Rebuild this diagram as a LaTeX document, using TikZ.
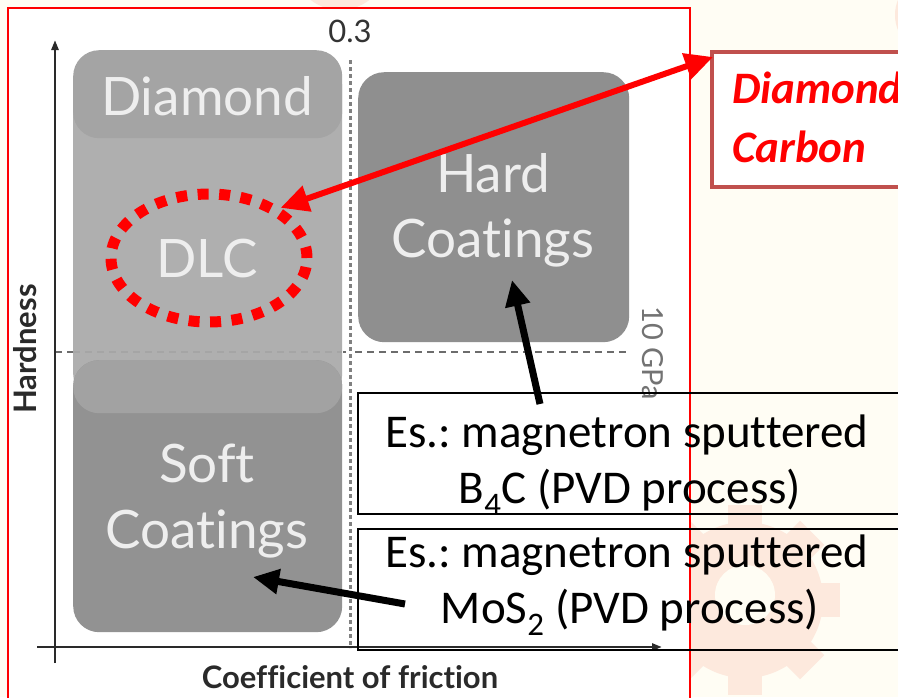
\documentclass[tikz,border=0pt]{standalone}
\usepackage{fontspec}
\setmainfont[Ligatures=CommonOff]{Carlito}
\newfontfamily\gill[Ligatures=CommonOff]{Lato}
\usetikzlibrary{arrows.meta,shapes.geometric}
\definecolor{cream}{HTML}{FFFDF4}
\definecolor{peach}{HTML}{FDE9DD}
\definecolor{colgray}{HTML}{AFAFAF}
\definecolor{diagray}{HTML}{A4A4A4}
\definecolor{hardgray}{HTML}{8F8F8F}
\definecolor{softgray}{HTML}{929292}
\definecolor{bandgray}{HTML}{A2A2A2}
\definecolor{boxred}{HTML}{C0504D}
\definecolor{txtlight}{HTML}{EEEEEE}
\definecolor{axisdark}{HTML}{2A2A2A}
\frenchspacing
\begin{document}
\begin{tikzpicture}[x=1pt,y=-1pt,
  region/.style={rounded corners=26pt, inner sep=0pt, anchor=north west},
  gilltxt/.style={font=\gill\fontsize{53}{60}\selectfont, text=txtlight, anchor=base, inner sep=0pt},
  axtxt/.style={font=\gill\bfseries\fontsize{31}{34}\selectfont, text=axisdark, inner sep=0pt},
  note/.style={font=\fontsize{47}{56}\selectfont, anchor=base, inner sep=0pt},
  notebox/.style={draw=black, line width=1.5pt, inner sep=0pt, anchor=north west},
  redtxt/.style={font=\bfseries\itshape\fontsize{45}{54}\selectfont, text=red, anchor=base west, inner sep=0pt},
  ptr/.style={line width=7pt, -{Triangle[length=26pt,width=24pt]}},
  redptr/.style={red, line width=6pt, {Triangle[length=28pt,width=26pt]}-{Triangle[length=28pt,width=26pt]}},
]
\useasboundingbox (0,0) rectangle (898,697);
\clip (0,0) rectangle (898,697);
% background
\fill[cream] (0,0) rectangle (898,697);
\fill[peach] (340,-38) circle (48pt);
\fill[peach] (935,15) circle (40pt);
\fill[peach] (745,600) circle (78pt);
\foreach \a in {0,45,...,315}
  \fill[peach, rotate around={\a:(745,600)}] (728,505) rectangle (762,530);
\fill[cream] (745,595) circle (30pt);
% frame
\fill[white] (8,8) rectangle (690,710);
\draw[red, line width=1.5pt] (8,710) -- (8,8) -- (690,8) -- (690,710);

% dashed 10 GPa line
\draw[gray!85!black, line width=2.5pt, dash pattern=on 7pt off 5pt] (55,352) -- (628,352);

% regions
\node[region, fill=colgray, minimum width=269pt, minimum height=340pt] (column) at (73,60) {};
\node[region, fill=softgray, minimum width=269pt, minimum height=272pt] (soft) at (73,360) {};
\node[region, fill=bandgray, minimum width=269pt, minimum height=53pt] (band) at (73,360) {};
\node[region, fill=diagray, minimum width=269pt, minimum height=88pt] (diamond) at (73,50) {};
\node[region, fill=hardgray, minimum width=271pt, minimum height=270pt] (hard) at (358,72) {};
\draw[colgray!80!gray, line width=2pt, dash pattern=on 7pt off 5pt] (73,352) -- (342,352);

% dotted 0.3 line
\draw[white, line width=8pt] (350,60) -- (350,648);
\draw[gray, line width=3pt, dash pattern=on 4pt off 3pt] (350,60) -- (350,648);

% region texts
\node[gilltxt] (tdiamond) at (207,115) {Diamond};
\node[gilltxt] (tdlc) at (207,277) {DLC};
\node[gilltxt] (thard) at (493,192) {Hard};
\node[gilltxt] (thardc) at (493,257) {Coatings};
\node[gilltxt] (tsoft) at (207,482) {Soft};
\node[gilltxt] (tsoftc) at (207,548) {Coatings};

% axes
\draw[axisdark, line width=2.5pt, -{Triangle[length=10pt,width=7pt]}] (55,663) -- (55,40);
\draw[axisdark, line width=2.5pt, -{Triangle[length=10pt,width=7pt]}] (37,647) -- (662,647);
\node[axtxt, rotate=90] (lhard) at (25,349) {Hardness};
\node[axtxt, anchor=base] (lcof) at (350,688) {Coefficient of friction};
\node[axtxt, anchor=base, font=\gill\fontsize{31}{34}\selectfont, text=black!80] (l03) at (350,42) {0.3};
\node[axtxt, rotate=-90, font=\gill\fontsize{29}{32}\selectfont, text=black!55] (l10) at (653,353) {10 GPa};

% DLC ring
\node[ellipse, draw=red, line width=11pt, dash pattern=on 11pt off 10.5pt, minimum width=196pt, minimum height=128pt, inner sep=0pt] (ring) at (209,258) {};

% red label box
\node[draw=boxred, fill=white, line width=4pt, minimum width=200pt, minimum height=135pt, anchor=north west, inner sep=0pt] (dlcbox) at (710,50) {};
\node[redtxt] (tdlc1) at (732,103) {Diamond};
\node[redtxt] (tdlc2) at (732,162) {Carbon};
\draw[redptr] (ring.35) -- ([xshift=3pt,yshift=-7pt]dlcbox.north west);

% example boxes
\node[notebox, minimum width=550pt, minimum height=121pt] (box1) at (357,392) {};
\node[note] (n1a) at (627,447) {Es.: magnetron sputtered};
\node[note] (n1b) at (630,503) {B\textsubscript{4}C (PVD process)};
\node[notebox, minimum width=550pt, minimum height=121pt] (box2) at (357,528) {};
\node[note] (n2a) at (627,567) {Es.: magnetron sputtered};
\node[note] (n2b) at (630,623) {MoS\textsubscript{2} (PVD process)};

\coordinate (a1tail) at (540,404);
\coordinate (a1tip) at (512,280);
\coordinate (a2tail) at (405,604);
\coordinate (a2tip) at (253,577);
\draw[ptr] (a1tail) -- (a1tip);
\draw[ptr] (a2tail) -- (a2tip);
\end{tikzpicture}
\end{document}
